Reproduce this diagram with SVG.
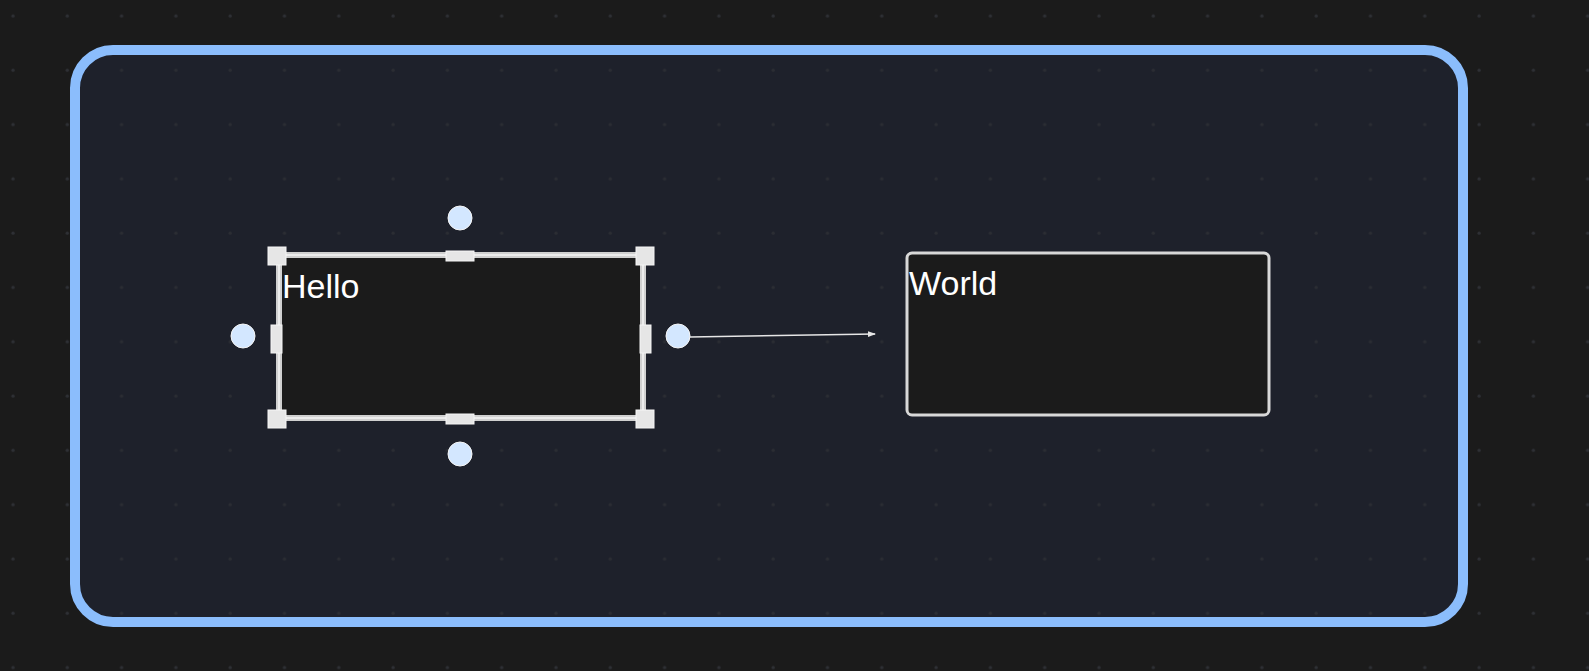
<svg xmlns="http://www.w3.org/2000/svg" width="1589" height="671" viewBox="0 0 1589 671">
<defs>
<pattern id="dots" x="0" y="0" width="54.3" height="54.3" patternUnits="userSpaceOnUse"><circle cx="13" cy="16" r="1.6" fill="#2e3035"/></pattern>
<marker id="arr" markerWidth="8" markerHeight="8" refX="7" refY="4" orient="auto" markerUnits="userSpaceOnUse"><path d="M0,1 L8,4 L0,7 Z" fill="#e6e6e6"/></marker>
<style>
.h{fill:#e6e6e6;stroke:#f5f5f5;stroke-width:1}
.c{fill:#d3e7ff;stroke:#f5f5f5;stroke-width:1}
.t{font-family:"Liberation Sans",Arial,sans-serif;font-size:34px;fill:#fff}
</style>
</defs>
<rect width="1589" height="671" fill="#1b1b1b"/>
<rect width="1589" height="671" fill="url(#dots)"/>
<g id="frame">
<rect x="75" y="50" width="1388" height="572" rx="38" fill="#1e212b" stroke="#8bbdfc" stroke-width="10"/>
<rect x="75" y="50" width="1388" height="572" fill="url(#dots)" opacity="0.8"/>
</g>
<g id="connectors">
<line x1="690" y1="337" x2="875" y2="334" stroke="#e6e6e6" stroke-width="1.5" marker-end="url(#arr)"/>
</g>
<g id="hello">
<rect x="279" y="255" width="364" height="163" fill="#1b1b1b" stroke="#d0d0d0" stroke-width="6"/>
<rect x="279" y="255" width="364" height="163" fill="none" stroke="#ececec" stroke-width="2"/>
<text class="t" x="282" y="298">Hello</text>
<rect class="h" x="268" y="247" width="18" height="18"/>
<rect class="h" x="636" y="247" width="18" height="18"/>
<rect class="h" x="268" y="410" width="18" height="18"/>
<rect class="h" x="636" y="410" width="18" height="18"/>
<rect class="h" x="446" y="251" width="28" height="10"/>
<rect class="h" x="446" y="420" width="28" height="10" transform="translate(0,-6)"/>
<rect class="h" x="271" y="325" width="11" height="28"/>
<rect class="h" x="640" y="325" width="11" height="28"/>
<circle class="c" cx="460" cy="218" r="12"/>
<circle class="c" cx="460" cy="454" r="12"/>
<circle class="c" cx="243" cy="336" r="12"/>
<circle class="c" cx="678" cy="336" r="12"/>
</g>
<g id="world">
<rect x="907" y="253" width="362" height="162" rx="5" fill="#1b1b1b" stroke="#d8d8d8" stroke-width="3"/>
<text class="t" x="909" y="295">World</text>
</g>
</svg>
